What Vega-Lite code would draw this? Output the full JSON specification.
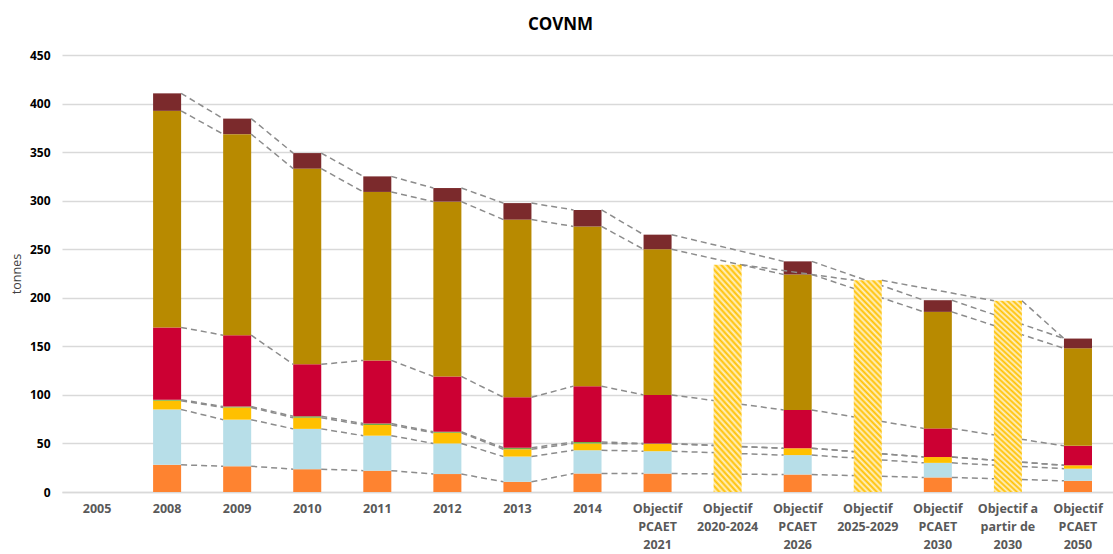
{
  "$schema": "https://vega.github.io/schema/vega-lite/v6.json",
  "autosize": "none",
  "width": 1051,
  "height": 437,
  "padding": {"left": 62, "top": 55, "right": 0, "bottom": 62},
  "background": "#ffffff",
  "config": {"font": "Open Sans", "view": {"stroke": null}},
  "title": {"text": "COVNM", "fontSize": 17, "fontWeight": "bold", "color": "#000000", "anchor": "middle", "dx": -27, "offset": 15, "font": "Open Sans"},
  "data": {"values": [
    {"c": "2008", "s": "Agriculture", "v": 28},
    {"c": "2008", "s": "Transport routier", "v": 57},
    {"c": "2008", "s": "Autres transports", "v": 9},
    {"c": "2008", "s": "Déchets", "v": 1},
    {"c": "2008", "s": "Industrie", "v": 74.5},
    {"c": "2008", "s": "Résidentiel", "v": 223},
    {"c": "2008", "s": "Tertiaire", "v": 18},
    {"c": "2009", "s": "Agriculture", "v": 26.5},
    {"c": "2009", "s": "Transport routier", "v": 48},
    {"c": "2009", "s": "Autres transports", "v": 12.5},
    {"c": "2009", "s": "Déchets", "v": 1},
    {"c": "2009", "s": "Industrie", "v": 73.5},
    {"c": "2009", "s": "Résidentiel", "v": 207},
    {"c": "2009", "s": "Tertiaire", "v": 16},
    {"c": "2010", "s": "Agriculture", "v": 23.5},
    {"c": "2010", "s": "Transport routier", "v": 41.5},
    {"c": "2010", "s": "Autres transports", "v": 11.5},
    {"c": "2010", "s": "Déchets", "v": 1.5},
    {"c": "2010", "s": "Industrie", "v": 53.5},
    {"c": "2010", "s": "Résidentiel", "v": 201.5},
    {"c": "2010", "s": "Tertiaire", "v": 16},
    {"c": "2011", "s": "Agriculture", "v": 22},
    {"c": "2011", "s": "Transport routier", "v": 36},
    {"c": "2011", "s": "Autres transports", "v": 11},
    {"c": "2011", "s": "Déchets", "v": 1.5},
    {"c": "2011", "s": "Industrie", "v": 65},
    {"c": "2011", "s": "Résidentiel", "v": 173.5},
    {"c": "2011", "s": "Tertiaire", "v": 16},
    {"c": "2012", "s": "Agriculture", "v": 18.5},
    {"c": "2012", "s": "Transport routier", "v": 31.5},
    {"c": "2012", "s": "Autres transports", "v": 11},
    {"c": "2012", "s": "Déchets", "v": 1},
    {"c": "2012", "s": "Industrie", "v": 57},
    {"c": "2012", "s": "Résidentiel", "v": 180},
    {"c": "2012", "s": "Tertiaire", "v": 14},
    {"c": "2013", "s": "Agriculture", "v": 10.5},
    {"c": "2013", "s": "Transport routier", "v": 26},
    {"c": "2013", "s": "Autres transports", "v": 7.5},
    {"c": "2013", "s": "Déchets", "v": 1.5},
    {"c": "2013", "s": "Industrie", "v": 52},
    {"c": "2013", "s": "Résidentiel", "v": 183},
    {"c": "2013", "s": "Tertiaire", "v": 17},
    {"c": "2014", "s": "Agriculture", "v": 19},
    {"c": "2014", "s": "Transport routier", "v": 24},
    {"c": "2014", "s": "Autres transports", "v": 7},
    {"c": "2014", "s": "Déchets", "v": 1.5},
    {"c": "2014", "s": "Industrie", "v": 57.5},
    {"c": "2014", "s": "Résidentiel", "v": 164.5},
    {"c": "2014", "s": "Tertiaire", "v": 17},
    {"c": "Objectif PCAET 2021", "s": "Agriculture", "v": 19},
    {"c": "Objectif PCAET 2021", "s": "Transport routier", "v": 23},
    {"c": "Objectif PCAET 2021", "s": "Autres transports", "v": 7.5},
    {"c": "Objectif PCAET 2021", "s": "Déchets", "v": 0.5},
    {"c": "Objectif PCAET 2021", "s": "Industrie", "v": 50},
    {"c": "Objectif PCAET 2021", "s": "Résidentiel", "v": 150},
    {"c": "Objectif PCAET 2021", "s": "Tertiaire", "v": 15},
    {"c": "Objectif 2020-2024", "s": "Objectif", "v": 234},
    {"c": "Objectif PCAET 2026", "s": "Agriculture", "v": 18},
    {"c": "Objectif PCAET 2026", "s": "Transport routier", "v": 20},
    {"c": "Objectif PCAET 2026", "s": "Autres transports", "v": 7},
    {"c": "Objectif PCAET 2026", "s": "Déchets", "v": 0},
    {"c": "Objectif PCAET 2026", "s": "Industrie", "v": 39.5},
    {"c": "Objectif PCAET 2026", "s": "Résidentiel", "v": 139.5},
    {"c": "Objectif PCAET 2026", "s": "Tertiaire", "v": 13.5},
    {"c": "Objectif 2025-2029", "s": "Objectif", "v": 218},
    {"c": "Objectif PCAET 2030", "s": "Agriculture", "v": 15},
    {"c": "Objectif PCAET 2030", "s": "Transport routier", "v": 15},
    {"c": "Objectif PCAET 2030", "s": "Autres transports", "v": 6},
    {"c": "Objectif PCAET 2030", "s": "Déchets", "v": 0},
    {"c": "Objectif PCAET 2030", "s": "Industrie", "v": 29.5},
    {"c": "Objectif PCAET 2030", "s": "Résidentiel", "v": 120},
    {"c": "Objectif PCAET 2030", "s": "Tertiaire", "v": 12},
    {"c": "Objectif a partir de 2030", "s": "Objectif", "v": 197},
    {"c": "Objectif PCAET 2050", "s": "Agriculture", "v": 11.5},
    {"c": "Objectif PCAET 2050", "s": "Transport routier", "v": 12.5},
    {"c": "Objectif PCAET 2050", "s": "Autres transports", "v": 3.5},
    {"c": "Objectif PCAET 2050", "s": "Déchets", "v": 0},
    {"c": "Objectif PCAET 2050", "s": "Industrie", "v": 20},
    {"c": "Objectif PCAET 2050", "s": "Résidentiel", "v": 100.5},
    {"c": "Objectif PCAET 2050", "s": "Tertiaire", "v": 10},
    {"c": "Objectif PCAET 2050", "s": "Objectif", "v": 0}
  ]},
  "transform": [
    {"window": [{"op": "row_number", "as": "r"}]},
    {"stack": "v", "groupby": ["c"], "sort": [{"field": "r", "order": "ascending"}], "as": ["y0", "y1"]},
    {"window": [{"op": "lead", "field": "y1", "as": "ny"}, {"op": "lead", "field": "c", "as": "nc"}], "groupby": ["s"], "sort": [{"field": "r", "order": "ascending"}]}
  ],
  "encoding": {
    "x": {
      "field": "c", "type": "nominal", "title": null,
      "scale": {"domain": ["2005", "2008", "2009", "2010", "2011", "2012", "2013", "2014", "Objectif PCAET 2021", "Objectif 2020-2024", "Objectif PCAET 2026", "Objectif 2025-2029", "Objectif PCAET 2030", "Objectif a partir de 2030", "Objectif PCAET 2050"], "paddingInner": 0.6, "paddingOuter": 0.3},
      "axis": {
        "labelAngle": 0, "labelFontSize": 12.5, "labelFontWeight": "bold", "labelColor": "#595959",
        "labelPadding": 10, "labelLineHeight": 18, "labelBaseline": "top",
        "labelExpr": "datum.label == 'Objectif a partir de 2030' ? ['Objectif a', 'partir de', '2030'] : split(datum.label, ' ')",
        "ticks": false, "domain": true, "domainColor": "#D9D9D9", "domainWidth": 1.5, "grid": false
      }
    }
  },
  "layer": [
    {
      "transform": [{"filter": "datum.s != 'Objectif'"}],
      "mark": {"type": "bar"},
      "encoding": {
        "y": {
          "field": "y0", "type": "quantitative", "title": "tonnes",
          "scale": {"domain": [0, 450], "nice": false},
          "axis": {
            "values": [0, 50, 100, 150, 200, 250, 300, 350, 400, 450],
            "grid": true, "gridColor": "#D9D9D9", "gridWidth": 1.3,
            "domain": false, "ticks": false,
            "labelFontSize": 12, "labelFontWeight": "bold", "labelColor": "#000000", "labelPadding": 12,
            "titleFontSize": 12.5, "titleFontWeight": "normal", "titleColor": "#404040", "titlePadding": 6
          }
        },
        "y2": {"field": "y1"},
        "color": {
          "field": "s", "type": "nominal", "legend": null,
          "scale": {
            "domain": ["Agriculture", "Transport routier", "Autres transports", "Déchets", "Industrie", "Résidentiel", "Tertiaire"],
            "range": ["#FE8330", "#B7DEE8", "#FFC000", "#70AD47", "#CC0033", "#B88A00", "#7B2A2C"]
          }
        }
      }
    },
    {
      "transform": [{"filter": "isValid(datum.nc)"}],
      "mark": {"type": "rule", "color": "#8C8C8C", "strokeWidth": 1.5, "strokeDash": [6, 4]},
      "encoding": {
        "x": {"field": "c", "type": "nominal", "bandPosition": 1},
        "x2": {"field": "nc", "bandPosition": 0},
        "y": {"field": "y1", "type": "quantitative"},
        "y2": {"field": "ny"}
      }
    },
    {
      "transform": [{"filter": "datum.s == 'Objectif' && datum.v > 0"}],
      "mark": {
        "type": "bar",
        "color": {
          "gradient": "linear", "x1": 0, "y1": 1, "x2": 0.15, "y2": -0.1,
          "stops": [
            {"offset": 0, "color": "#FFC000"}, {"offset": 0.0125, "color": "#FFF2C8"},
            {"offset": 0.025, "color": "#FFC000"}, {"offset": 0.0375, "color": "#FFF2C8"},
            {"offset": 0.05, "color": "#FFC000"}, {"offset": 0.0625, "color": "#FFF2C8"},
            {"offset": 0.075, "color": "#FFC000"}, {"offset": 0.0875, "color": "#FFF2C8"},
            {"offset": 0.1, "color": "#FFC000"}, {"offset": 0.1125, "color": "#FFF2C8"},
            {"offset": 0.125, "color": "#FFC000"}, {"offset": 0.1375, "color": "#FFF2C8"},
            {"offset": 0.15, "color": "#FFC000"}, {"offset": 0.1625, "color": "#FFF2C8"},
            {"offset": 0.175, "color": "#FFC000"}, {"offset": 0.1875, "color": "#FFF2C8"},
            {"offset": 0.2, "color": "#FFC000"}, {"offset": 0.2125, "color": "#FFF2C8"},
            {"offset": 0.225, "color": "#FFC000"}, {"offset": 0.2375, "color": "#FFF2C8"},
            {"offset": 0.25, "color": "#FFC000"}, {"offset": 0.2625, "color": "#FFF2C8"},
            {"offset": 0.275, "color": "#FFC000"}, {"offset": 0.2875, "color": "#FFF2C8"},
            {"offset": 0.3, "color": "#FFC000"}, {"offset": 0.3125, "color": "#FFF2C8"},
            {"offset": 0.325, "color": "#FFC000"}, {"offset": 0.3375, "color": "#FFF2C8"},
            {"offset": 0.35, "color": "#FFC000"}, {"offset": 0.3625, "color": "#FFF2C8"},
            {"offset": 0.375, "color": "#FFC000"}, {"offset": 0.3875, "color": "#FFF2C8"},
            {"offset": 0.4, "color": "#FFC000"}, {"offset": 0.4125, "color": "#FFF2C8"},
            {"offset": 0.425, "color": "#FFC000"}, {"offset": 0.4375, "color": "#FFF2C8"},
            {"offset": 0.45, "color": "#FFC000"}, {"offset": 0.4625, "color": "#FFF2C8"},
            {"offset": 0.475, "color": "#FFC000"}, {"offset": 0.4875, "color": "#FFF2C8"},
            {"offset": 0.5, "color": "#FFC000"}, {"offset": 0.5125, "color": "#FFF2C8"},
            {"offset": 0.525, "color": "#FFC000"}, {"offset": 0.5375, "color": "#FFF2C8"},
            {"offset": 0.55, "color": "#FFC000"}, {"offset": 0.5625, "color": "#FFF2C8"},
            {"offset": 0.575, "color": "#FFC000"}, {"offset": 0.5875, "color": "#FFF2C8"},
            {"offset": 0.6, "color": "#FFC000"}, {"offset": 0.6125, "color": "#FFF2C8"},
            {"offset": 0.625, "color": "#FFC000"}, {"offset": 0.6375, "color": "#FFF2C8"},
            {"offset": 0.65, "color": "#FFC000"}, {"offset": 0.6625, "color": "#FFF2C8"},
            {"offset": 0.675, "color": "#FFC000"}, {"offset": 0.6875, "color": "#FFF2C8"},
            {"offset": 0.7, "color": "#FFC000"}, {"offset": 0.7125, "color": "#FFF2C8"},
            {"offset": 0.725, "color": "#FFC000"}, {"offset": 0.7375, "color": "#FFF2C8"},
            {"offset": 0.75, "color": "#FFC000"}, {"offset": 0.7625, "color": "#FFF2C8"},
            {"offset": 0.775, "color": "#FFC000"}, {"offset": 0.7875, "color": "#FFF2C8"},
            {"offset": 0.8, "color": "#FFC000"}, {"offset": 0.8125, "color": "#FFF2C8"},
            {"offset": 0.825, "color": "#FFC000"}, {"offset": 0.8375, "color": "#FFF2C8"},
            {"offset": 0.85, "color": "#FFC000"}, {"offset": 0.8625, "color": "#FFF2C8"},
            {"offset": 0.875, "color": "#FFC000"}, {"offset": 0.8875, "color": "#FFF2C8"},
            {"offset": 0.9, "color": "#FFC000"}, {"offset": 0.9125, "color": "#FFF2C8"},
            {"offset": 0.925, "color": "#FFC000"}, {"offset": 0.9375, "color": "#FFF2C8"},
            {"offset": 0.95, "color": "#FFC000"}, {"offset": 0.9625, "color": "#FFF2C8"},
            {"offset": 0.975, "color": "#FFC000"}, {"offset": 0.9875, "color": "#FFF2C8"},
            {"offset": 1, "color": "#FFC000"}
          ]
        }
      },
      "encoding": {
        "y": {"field": "y0", "type": "quantitative"},
        "y2": {"field": "y1"}
      }
    }
  ]
}
